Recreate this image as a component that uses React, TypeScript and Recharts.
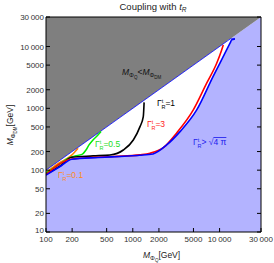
import React from "react";
import { Area, ComposedChart, Line, XAxis, YAxis } from "recharts";

const X_TICKS = [100, 200, 500, 1000, 2000, 5000, 10000, 30000];
const Y_TICKS = [10, 20, 50, 100, 200, 500, 1000, 2000, 5000, 10000, 30000];

// contours (M_PhiQ, M_PhiDM) in GeV
const BLUE_X = [100, 150, 198, 400, 800, 1200, 1710, 2457, 3500, 5450, 8400, 11530, 13280, 13780, 15040];
const BLUE_Y = [83, 118, 150, 160, 168, 174, 183, 256, 420, 942, 3260, 7800, 11530, 12800, 13280];
const BLUE_CLOSE_X = [15040, 13280, 100];
const BLUE_CLOSE_Y = [13280, 13280, 100];

const RED_X = [100, 198, 600, 1200, 1578, 2230, 3205, 4980, 7100, 9260, 10570, 11040];
const RED_Y = [85, 152, 166, 177, 188, 229, 400, 942, 2550, 5370, 8810, 10620];

const BLACK_X = [100, 150, 197, 350, 546, 778, 1014, 1211, 1321, 1350];
const BLACK_Y = [86, 121, 162, 170, 176, 212, 308, 506, 735, 1250];

const GREEN_X = [100, 145, 179, 216, 260, 289, 313, 348, 387, 431];
const GREEN_Y = [90, 126, 155, 170, 180, 212, 256, 308, 357, 423];

const ORANGE_X = [100, 140, 198, 234];
const ORANGE_Y = [92, 130, 175, 226];

const pts = (xs: number[], ys: number[]) => xs.map((x, i) => ({ x, y: ys[i] }));

const DOMAIN_X = [100, 30000];
const DOMAIN_Y = [10, 30000];

// regions
const blueRegion = [
  { x: DOMAIN_X[0], r: [DOMAIN_Y[0], DOMAIN_X[0]] },
  { x: DOMAIN_X[1], r: [DOMAIN_Y[0], DOMAIN_X[1]] },
];
const grayRegion = [
  { x: DOMAIN_X[0], r: [DOMAIN_X[0], DOMAIN_Y[1]] },
  { x: DOMAIN_X[1], r: [DOMAIN_X[1], DOMAIN_Y[1]] },
];
const tipY = BLUE_Y[BLUE_Y.length - 1];
const whiteRegion = BLUE_X.map((x, i) => ({ x, r: [BLUE_Y[i], Math.min(x, tipY)] }));

const FONT = "'Liberation Sans', Arial, sans-serif";
const TICK_LEN = 4;
const MARGIN = 3;

function fmt(v: number) {
  if (v >= 10000) return `${Math.floor(v / 1000)}\u2009${String(v % 1000).padStart(3, "0")}`;
  return String(v);
}

function BottomTick({ x, y, payload }: any) {
  const y0 = y - MARGIN;
  return (
    <g>
      <line x1={x} x2={x} y1={y0} y2={y0 - TICK_LEN} stroke="#000" />
      <text x={x} y={y0 + 9.5} textAnchor="middle" fontSize={8} fill="#333" fontFamily={FONT}>
        {fmt(payload.value)}
      </text>
    </g>
  );
}

function LeftTick({ x, y, payload }: any) {
  const x0 = x + MARGIN;
  // lowest label sits a bit higher so it clears the "100" below it
  const dy = payload.value === Y_TICKS[0] ? 0.5 : 3;
  return (
    <g>
      <line x1={x0} x2={x0 + TICK_LEN} y1={y} y2={y} stroke="#000" />
      <text x={x0 - 2} y={y + dy} textAnchor="end" fontSize={8} fill="#333" fontFamily={FONT}>
        {fmt(payload.value)}
      </text>
    </g>
  );
}

function TopTick({ x, y }: any) {
  const y0 = y + MARGIN;
  return <line x1={x} x2={x} y1={y0} y2={y0 + TICK_LEN} stroke="#000" />;
}

function RightTick({ x, y }: any) {
  const x0 = x - MARGIN;
  return <line x1={x0} x2={x0 - TICK_LEN} y1={y} y2={y} stroke="#000" />;
}

function Gamma({ x, y, color, children }: any) {
  return (
    <text x={x} y={y} fill={color} fontSize={8.5} fontFamily={FONT}>
      Γ
      <tspan fontSize={5.5} dy={-3.5}>t</tspan>
      <tspan fontSize={5.5} dx={-1.8} dy={6}>R</tspan>
      <tspan dy={-2.5}>{children}</tspan>
    </text>
  );
}

export default function App() {
  const lineProps = { type: "monotone" as const, dataKey: "y", dot: false, isAnimationActive: false };
  return (
    <div style={{ position: "absolute", left: 0, top: 0, width: 274, height: 263, background: "#fff" }}>
      <ComposedChart width={274} height={263} margin={{ top: 16, right: 12, bottom: 17, left: 10 }}>
        <XAxis
          xAxisId={0}
          dataKey="x"
          type="number"
          scale="log"
          domain={DOMAIN_X}
          allowDataOverflow
          ticks={X_TICKS}
          interval={0}
          tickSize={0}
          tickMargin={MARGIN}
          height={14}
          tick={<BottomTick />}
          axisLine={{ stroke: "#000" }}
        />
        <XAxis
          xAxisId="top"
          orientation="top"
          type="number"
          scale="log"
          domain={DOMAIN_X}
          allowDataOverflow
          ticks={X_TICKS}
          interval={0}
          tickSize={0}
          tickMargin={MARGIN}
          height={1}
          tick={<TopTick />}
          axisLine={{ stroke: "#000" }}
        />
        <YAxis
          yAxisId={0}
          type="number"
          scale="log"
          domain={DOMAIN_Y}
          allowDataOverflow
          ticks={Y_TICKS}
          interval={0}
          tickSize={0}
          tickMargin={MARGIN}
          width={36}
          tick={<LeftTick />}
          axisLine={{ stroke: "#000" }}
        />
        <YAxis
          yAxisId="right"
          orientation="right"
          type="number"
          scale="log"
          domain={DOMAIN_Y}
          allowDataOverflow
          ticks={Y_TICKS}
          interval={0}
          tickSize={0}
          tickMargin={MARGIN}
          width={1}
          tick={<RightTick />}
          axisLine={{ stroke: "#000" }}
        />

        <Area data={blueRegion} dataKey="r" type="linear" stroke="none" fill="#b3b3ff" fillOpacity={1} isAnimationActive={false} />
        <Area data={grayRegion} dataKey="r" type="linear" stroke="none" fill="#7f7f7f" fillOpacity={1} isAnimationActive={false} />
        <Area data={whiteRegion} dataKey="r" type="monotone" stroke="none" fill="#ffffff" fillOpacity={1} isAnimationActive={false} />

        <Line data={pts(BLUE_CLOSE_X, BLUE_CLOSE_Y)} {...lineProps} type="linear" stroke="#0000ff" strokeWidth={0.8} />
        <Line data={pts(ORANGE_X, ORANGE_Y)} {...lineProps} stroke="#ff8000" strokeWidth={1.5} />
        <Line data={pts(GREEN_X, GREEN_Y)} {...lineProps} stroke="#00ee00" strokeWidth={1.5} />
        <Line data={pts(BLACK_X, BLACK_Y)} {...lineProps} stroke="#000000" strokeWidth={1.6} />
        <Line data={pts(RED_X, RED_Y)} {...lineProps} stroke="#ff0000" strokeWidth={1.6} />
        <Line data={pts(BLUE_X, BLUE_Y)} {...lineProps} stroke="#0000ff" strokeWidth={1.6} />
      </ComposedChart>

      <svg width={274} height={263} style={{ position: "absolute", left: 0, top: 0, pointerEvents: "none" }}>
        <text x={153} y={10} textAnchor="middle" fontSize={9.5} fill="#222" fontFamily={FONT}>
          Coupling with <tspan fontStyle="italic">t</tspan>
          <tspan fontSize={6.5} dy={2} fontStyle="italic">R</tspan>
        </text>

        <text x={143} y={258} fontSize={8.5} fill="#222" fontFamily={FONT}>
          <tspan fontStyle="italic">M</tspan>
          <tspan fontSize={6} dy={2}>Φ</tspan>
          <tspan fontSize={4.5} dy={1.5}>Q</tspan>
          <tspan dy={-3.5}>[GeV]</tspan>
        </text>

        <text transform="translate(13,125) rotate(-90)" textAnchor="middle" fontSize={8.5} fill="#222" fontFamily={FONT}>
          <tspan fontStyle="italic">M</tspan>
          <tspan fontSize={6} dy={2}>Φ</tspan>
          <tspan fontSize={4.5} dy={1.5}>DM</tspan>
          <tspan dy={-3.5}>[GeV]</tspan>
        </text>

        <text x={122} y={75} fontSize={8.5} fill="#111" fontFamily={FONT}>
          <tspan fontStyle="italic">M</tspan>
          <tspan fontSize={6} dy={2}>Φ</tspan>
          <tspan fontSize={4.5} dy={1.5}>Q</tspan>
          <tspan dy={-3.5}>{"<"}</tspan>
          <tspan fontStyle="italic">M</tspan>
          <tspan fontSize={6} dy={2}>Φ</tspan>
          <tspan fontSize={4.5} dy={1.5}>DM</tspan>
        </text>

        <Gamma x={157} y={106} color="#000">=1</Gamma>
        <Gamma x={147} y={127} color="#ff2020">=3</Gamma>
        <Gamma x={95} y={147} color="#22dd22">=0.5</Gamma>
        <Gamma x={58} y={178} color="#ff8a20">=0.1</Gamma>
        <text x={193} y={145} fill="#2020ee" fontSize={8.5} fontFamily={FONT}>
          Γ
          <tspan fontSize={5.5} dy={-3.5}>t</tspan>
          <tspan fontSize={5.5} dx={-1.8} dy={6}>R</tspan>
          <tspan dy={-2.5}>{"> √"}</tspan>
          <tspan textDecoration="overline">4 π</tspan>
        </text>
      </svg>
    </div>
  );
}
